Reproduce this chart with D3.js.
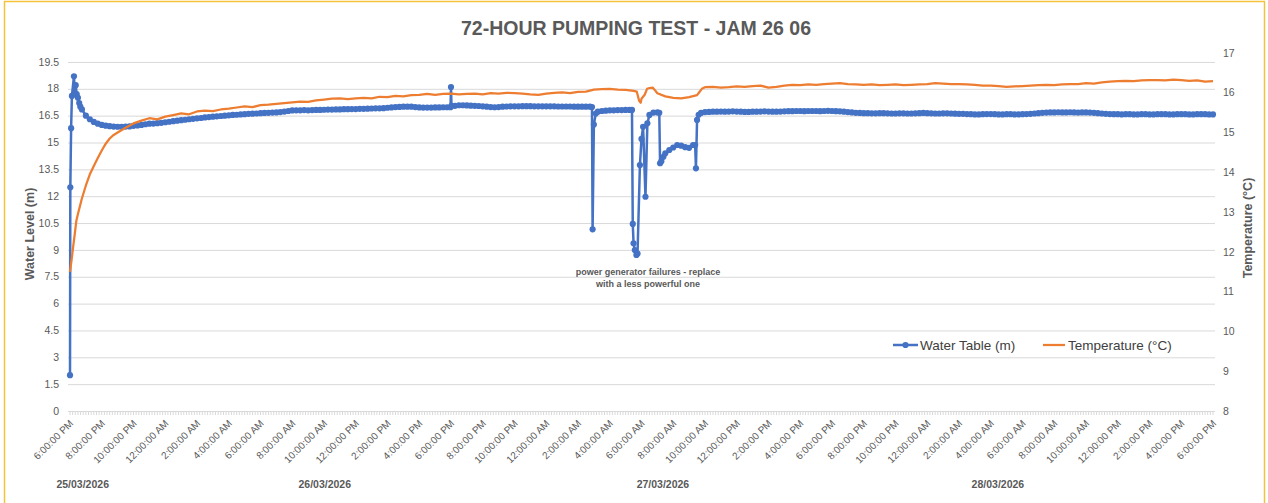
<!DOCTYPE html>
<html>
<head>
<meta charset="utf-8">
<script src="https://cdn.jsdelivr.net/npm/d3@7"></script>
<style>
  body { margin: 0; background: #fff; }
  svg { display: block; font-family: "Liberation Sans", Arial, sans-serif; }
</style>
</head>
<body>
<div id="chart"></div>
<script>
// test started 25/03/2026 6 PM, all readings in hours since start
var testStart = new Date(2026, 2, 25, 18, 0, 0);
var labelHours = d3.range(0, 73, 2);
var dateLabels = ["25/03/2026", "26/03/2026", "27/03/2026", "28/03/2026"];
var dateLabelHours = [0.8, 16.05, 37.35, 58.45];
var levelTicks = d3.range(0, 19.6, 1.5);
var tempTicks = d3.range(8, 18, 1);

// water table (m), logger every 15 min
var waterStep = 0.25;
var waterLevel = [
  2.0, 18.7, 17.5, 16.85, 16.5, 16.3, 16.15, 16.05, 15.98, 15.94, 15.91, 15.89,
  15.88, 15.88, 15.89, 15.90, 15.93, 15.95, 15.98, 16.02, 16.05, 16.06, 16.08, 16.10,
  16.13, 16.16, 16.19, 16.22, 16.25, 16.27, 16.30, 16.32, 16.35, 16.37, 16.40, 16.42,
  16.44, 16.46, 16.48, 16.50, 16.52, 16.54, 16.55, 16.57, 16.58, 16.60, 16.61, 16.62,
  16.64, 16.65, 16.66, 16.67, 16.68, 16.70, 16.73, 16.76, 16.79, 16.80, 16.80, 16.81,
  16.80, 16.81, 16.82, 16.82, 16.83, 16.84, 16.84, 16.85, 16.85, 16.86, 16.86, 16.87,
  16.87, 16.88, 16.88, 16.89, 16.90, 16.91, 16.91, 16.92, 16.94, 16.96, 16.98, 16.99,
  17.00, 17.00, 17.00, 16.98, 16.96, 16.95, 16.95, 16.95, 16.96, 16.96, 16.97, 16.97,
  18.10, 17.05, 17.08, 17.08, 17.07, 17.06, 17.05, 17.04, 17.02, 17.00, 16.98, 16.97,
  16.98, 17.00, 17.01, 17.02, 17.02, 17.02, 17.03, 17.03, 17.03, 17.02, 17.02, 17.02,
  17.02, 17.02, 17.02, 17.01, 17.01, 17.01, 17.01, 17.00, 17.00, 17.00, 17.00, 17.00,
  16.00, 16.72, 16.76, 16.78, 16.80, 16.80, 16.81, 16.81, 16.82, 16.82, 9.37, 8.80,
  15.20, 11.97, 16.54, 16.67, 16.68, 13.95, 14.40, 14.58, 14.72, 14.86, 14.82, 14.74,
  14.70, 14.86, 16.26, 16.65, 16.70, 16.71, 16.72, 16.72, 16.73, 16.72, 16.73, 16.74,
  16.73, 16.72, 16.71, 16.71, 16.72, 16.72, 16.73, 16.74, 16.73, 16.72, 16.72, 16.73,
  16.74, 16.75, 16.75, 16.76, 16.76, 16.75, 16.76, 16.76, 16.76, 16.75, 16.76, 16.77,
  16.76, 16.75, 16.74, 16.72, 16.70, 16.68, 16.66, 16.65, 16.64, 16.64, 16.63, 16.63,
  16.64, 16.64, 16.63, 16.62, 16.62, 16.63, 16.63, 16.62, 16.62, 16.63, 16.64, 16.65,
  16.64, 16.63, 16.62, 16.62, 16.63, 16.63, 16.62, 16.61, 16.60, 16.60, 16.59, 16.58,
  16.57, 16.57, 16.58, 16.59, 16.59, 16.58, 16.57, 16.57, 16.58, 16.58, 16.57, 16.57,
  16.58, 16.59, 16.60, 16.62, 16.64, 16.66, 16.67, 16.68, 16.68, 16.69, 16.68, 16.68,
  16.69, 16.68, 16.67, 16.68, 16.68, 16.67, 16.66, 16.64, 16.62, 16.60, 16.59, 16.58,
  16.58, 16.57, 16.58, 16.58, 16.57, 16.57, 16.58, 16.58, 16.57, 16.57, 16.58, 16.58,
  16.58, 16.57, 16.57, 16.58, 16.58, 16.58, 16.57, 16.57, 16.58, 16.58, 16.58, 16.57,
  16.57
];
// extra readings taken during start-up, the 6 PM check and generator failures
var waterExtraHours = [0.02, 0.07, 0.12, 0.30, 0.36, 0.42, 0.58, 0.65,
  23.97, 24.03,
  32.88, 32.92, 33.12,
  35.40, 35.45, 35.58, 35.68, 35.90, 36.10, 36.37,
  37.12, 37.17, 37.38,
  39.38, 39.43, 39.60];
var waterExtraLevel = [12.5, 15.8, 17.6, 17.7, 18.2, 17.7, 17.2, 17.0,
  16.97, 17.05,
  16.98, 10.15, 16.62,
  16.82, 10.45, 8.99, 8.72, 13.74, 15.88, 16.07,
  16.66, 13.84, 14.20,
  14.86, 13.56, 16.55];

// temperature (°C), every 30 min
var tempStep = 0.5;
var tempValue = [
  11.50, 12.95, 13.67, 14.16, 14.55, 14.85, 15.00, 15.12, 15.23, 15.30, 15.36, 15.33,
  15.40, 15.44, 15.48, 15.46, 15.53, 15.55, 15.54, 15.58, 15.60, 15.63, 15.66, 15.64,
  15.69, 15.70, 15.72, 15.74, 15.76, 15.78, 15.77, 15.81, 15.83, 15.85, 15.86, 15.84,
  15.86, 15.87, 15.86, 15.90, 15.89, 15.92, 15.91, 15.94, 15.95, 15.97, 15.95, 15.97,
  15.98, 15.96, 15.97, 15.98, 15.96, 15.99, 15.98, 16.00, 15.99, 15.98, 15.96, 15.95,
  15.98, 16.00, 16.01, 15.99, 16.02, 16.03, 16.08, 16.09, 16.10, 16.08, 16.07, 16.05,
  15.85, 16.12, 15.99, 15.91, 15.87, 15.86, 15.89, 15.94, 16.14, 16.15, 16.13, 16.14,
  16.16, 16.15, 16.17, 16.18, 16.13, 16.15, 16.18, 16.20, 16.19, 16.21, 16.20, 16.22,
  16.23, 16.24, 16.22, 16.21, 16.20, 16.21, 16.19, 16.20, 16.21, 16.19, 16.20, 16.21,
  16.22, 16.24, 16.23, 16.22, 16.22, 16.21, 16.20, 16.18, 16.18, 16.17, 16.15, 16.16,
  16.17, 16.18, 16.19, 16.20, 16.19, 16.21, 16.22, 16.22, 16.24, 16.23, 16.26, 16.28,
  16.29, 16.30, 16.29, 16.31, 16.32, 16.32, 16.31, 16.33, 16.32, 16.30, 16.31, 16.28,
  16.29
];
var tempExtraHours = [0.1, 0.2, 0.3, 0.4, 0.74, 1.25, 1.75, 2.25, 2.75,
  35.7, 35.85, 35.95, 36.2, 36.35, 36.7, 36.9, 39.65, 39.8];
var tempExtraValue = [11.80, 12.13, 12.45, 12.78, 13.33, 13.95, 14.36, 14.72, 14.94,
  16.03, 15.80, 15.75, 15.95, 16.10, 16.13, 16.04, 16.02, 16.10];

var W = 1268, H = 503;
var margin = {top: 53, right: 55, bottom: 92, left: 70};
var plotW = W - margin.left - margin.right,
    plotH = H - margin.top - margin.bottom;

var grey = "#595959", gridGrey = "#d9d9d9";
var blue = "#4472c4", orange = "#ed7d31";

var svg = d3.select("#chart").append("svg")
    .attr("width", W)
    .attr("height", H);

svg.append("rect")
    .attr("x", 4.5).attr("y", 1.5)
    .attr("width", W - 8).attr("height", H + 10)
    .attr("fill", "#fff")
    .attr("stroke", "#f5c33b")
    .attr("stroke-width", 1.5);

var g = svg.append("g").attr("transform", "translate(" + margin.left + "," + margin.top + ")");

var x = d3.scaleLinear().domain([0, 72]).range([0, plotW]);
var yL = d3.scaleLinear().domain([0, 20]).range([plotH, 0]);
var yR = d3.scaleLinear().domain([8, 17]).range([plotH, 0]);

// gridlines
g.append("g").selectAll("line")
  .data(levelTicks.slice(1))
  .enter().append("line")
    .attr("x1", -2).attr("x2", plotW + 2)
    .attr("y1", function(d) { return yL(d) + 0.5; })
    .attr("y2", function(d) { return yL(d) + 0.5; })
    .attr("stroke", gridGrey).attr("stroke-width", 1);

// category axis line with its dense tick marks
g.append("line")
    .attr("x1", -2).attr("x2", plotW + 2)
    .attr("y1", plotH + 0.5).attr("y2", plotH + 0.5)
    .attr("stroke", gridGrey);
g.append("g").selectAll("line")
  .data(d3.range(0, 72.01, 1 / 6))
  .enter().append("line")
    .attr("x1", function(d) { return x(d); })
    .attr("x2", function(d) { return x(d); })
    .attr("y1", plotH).attr("y2", plotH + 4)
    .attr("stroke", gridGrey).attr("stroke-width", 1);

// left axis labels
g.append("g").selectAll("text")
  .data(levelTicks)
  .enter().append("text")
    .attr("x", -11)
    .attr("y", function(d) { return yL(d); })
    .attr("dy", "0.35em")
    .attr("text-anchor", "end")
    .attr("fill", grey)
    .style("font-size", "10.5px")
    .text(function(d) { return d; });

// right axis labels
g.append("g").selectAll("text")
  .data(tempTicks)
  .enter().append("text")
    .attr("x", plotW + 10)
    .attr("y", function(d) { return yR(d); })
    .attr("dy", "0.35em")
    .attr("fill", grey)
    .style("font-size", "10.5px")
    .text(function(d) { return d; });

// time labels
var fmt = d3.timeFormat("%-I:%M:%S %p");
g.append("g").selectAll("text")
  .data(labelHours)
  .enter().append("text")
    .attr("transform", function(d) { return "translate(" + (x(d) + 4) + "," + (plotH + 13) + ") rotate(-45)"; })
    .attr("text-anchor", "end")
    .attr("fill", grey)
    .style("font-size", "10px")
    .text(function(d) { return fmt(new Date(testStart.getTime() + d * 3600e3)); });

// day labels
g.append("g").selectAll("text")
  .data(dateLabels)
  .enter().append("text")
    .attr("x", function(d, i) { return x(dateLabelHours[i]); })
    .attr("y", plotH + 77)
    .attr("text-anchor", "middle")
    .attr("fill", grey)
    .style("font-size", "10.5px")
    .style("font-weight", "bold")
    .text(function(d) { return d; });

// build the series
var water = waterLevel.map(function(v, i) { return {h: i * waterStep, v: v}; })
  .concat(waterExtraHours.map(function(h, i) { return {h: h, v: waterExtraLevel[i]}; }))
  .sort(function(a, b) { return a.h - b.h; });
var temp = tempValue.map(function(v, i) { return {h: i * tempStep, v: v}; })
  .concat(tempExtraHours.map(function(h, i) { return {h: h, v: tempExtraValue[i]}; }))
  .sort(function(a, b) { return a.h - b.h; });

g.append("path")
    .datum(water)
    .attr("fill", "none")
    .attr("stroke", blue)
    .attr("stroke-width", 2.5)
    .attr("stroke-linejoin", "round")
    .attr("d", d3.line().x(function(d) { return x(d.h); }).y(function(d) { return yL(d.v); }));

g.append("g").selectAll("circle")
  .data(water)
  .enter().append("circle")
    .attr("cx", function(d) { return x(d.h); })
    .attr("cy", function(d) { return yL(d.v); })
    .attr("r", 3.1)
    .attr("fill", blue);

g.append("path")
    .datum(temp)
    .attr("fill", "none")
    .attr("stroke", orange)
    .attr("stroke-width", 2.25)
    .attr("stroke-linejoin", "round")
    .attr("d", d3.line().x(function(d) { return x(d.h); }).y(function(d) { return yR(d.v); }));

// title
svg.append("text")
    .attr("x", W / 2 + 2)
    .attr("y", 35)
    .attr("text-anchor", "middle")
    .attr("fill", grey)
    .style("font-size", "19.5px")
    .style("font-weight", "bold")
    .text("72-HOUR PUMPING TEST - JAM 26 06");

// axis titles
svg.append("text")
    .attr("transform", "translate(34," + (margin.top + plotH / 2 + 2) + ") rotate(-90)")
    .attr("text-anchor", "middle")
    .attr("fill", grey)
    .style("font-size", "12.5px")
    .style("font-weight", "bold")
    .text("Water Level (m)");

svg.append("text")
    .attr("transform", "translate(1252," + (margin.top + plotH / 2 - 4) + ") rotate(-90)")
    .attr("text-anchor", "middle")
    .attr("fill", grey)
    .style("font-size", "12.5px")
    .style("font-weight", "bold")
    .text("Temperature (°C)");

// annotation
var note = svg.append("text")
    .attr("text-anchor", "middle")
    .attr("fill", grey)
    .style("font-size", "9px")
    .style("font-weight", "bold");
note.append("tspan").attr("x", 648).attr("y", 275).text("power generator failures - replace");
note.append("tspan").attr("x", 648).attr("y", 287).text("with a less powerful one");

// legend
var legend = svg.append("g").attr("transform", "translate(893,345)");
legend.append("line").attr("x1", 0).attr("x2", 25).attr("stroke", blue).attr("stroke-width", 2.5);
legend.append("circle").attr("cx", 12.5).attr("r", 3.1).attr("fill", blue);
legend.append("text").attr("x", 27).attr("dy", "0.35em").attr("fill", "#404040")
    .style("font-size", "13.5px").text("Water Table (m)");
legend.append("line").attr("x1", 150).attr("x2", 172).attr("stroke", orange).attr("stroke-width", 2.25);
legend.append("text").attr("x", 175).attr("dy", "0.35em").attr("fill", "#404040")
    .style("font-size", "13.5px").text("Temperature (°C)");
</script>
</body>
</html>
